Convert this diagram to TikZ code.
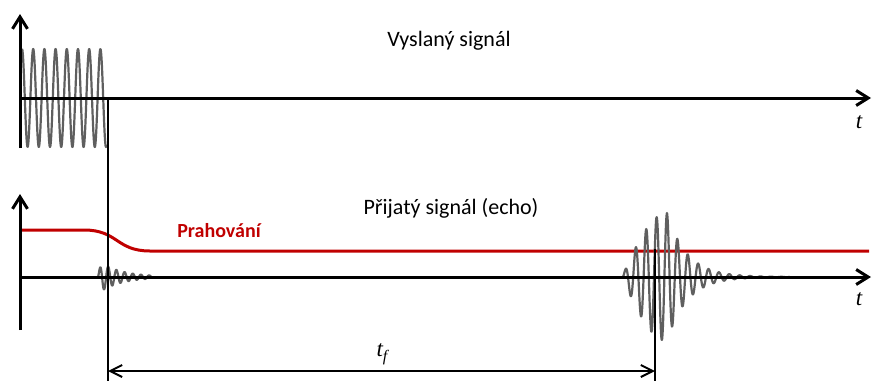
\documentclass[tikz,border=0pt]{standalone}
\usepackage{fontspec}
\setmainfont{Carlito}
\newfontfamily\varfont{Liberation Serif}
\usetikzlibrary{arrows.meta}
\definecolor{sig}{RGB}{95,95,95}
\definecolor{thr}{RGB}{192,0,0}
\begin{document}
\begin{tikzpicture}[x=1pt,y=-1pt,
  axis/.style={line width=3pt,-{Straight Barb[length=12pt,width=15pt]}},
  marker/.style={line width=2pt},
  dimline/.style={line width=2pt,{Straight Barb[length=12pt,width=12pt]}-{Straight Barb[length=12pt,width=12pt]}},
  wave/.style={sig,line width=2.2pt,line join=round},
  threshold/.style={thr,line width=3pt},
  caption/.style={font=\fontsize{22}{26}\selectfont,anchor=base,inner sep=0pt},
  thrlabel/.style={font=\fontsize{20}{24}\selectfont\bfseries,text=thr,anchor=base,inner sep=0pt},
  timelabel/.style={font=\varfont\itshape\fontsize{23}{26}\selectfont,anchor=base,inner sep=0pt},
  declare function={
    echoenv(\t)=(\t<667) ? 64*sin(2*(\t-622)) : 64*exp(-(\t-667)/20);
    smallenv(\t)=(\t<103) ? 13*sin(15*(\t-97)) : 13*exp(-(\t-103)/22);
  }]
\useasboundingbox (0,0) rectangle (873,381);

% axis end points
\coordinate (o1) at (20,98);
\coordinate (y1top) at (20,14);
\coordinate (y1bot) at (20,148);
\coordinate (x1end) at (871,98);
\coordinate (o2) at (20,277);
\coordinate (y2top) at (20,194);
\coordinate (y2bot) at (20,330);
\coordinate (x2end) at (871,277);

% threshold curve
\coordinate (thrA) at (22,230);
\coordinate (thrB) at (84,230);
\coordinate (thrC) at (150,251);
\coordinate (thrD) at (869,251);
\draw[threshold] (thrA) -- (thrB) .. controls (118,230) and (116,251) .. (thrC) -- (thrD);

% transmitted burst
\draw[wave] plot[domain=22:106.5,samples=340] (\x,{98-49*cos(32.1429*(\x-22))});

% weak echo right after transmission
\draw[wave] plot[domain=97:152,samples=240] (\x,{277-smallenv(\x)*cos(43.9024*(\x-100))});

% received echo
\draw[wave] plot[domain=622:790,samples=700] (\x,{277-echoenv(\x)*cos(34.6154*(\x-667))});

% axes
\draw[line width=3pt] (y1bot) -- (o1);
\draw[axis] (o1) -- (y1top);
\draw[axis] (o1) -- (x1end);
\draw[line width=3pt] (y2bot) -- (o2);
\draw[axis] (o2) -- (y2top);
\draw[axis] (o2) -- (x2end);

% time-of-flight markers
\coordinate (m1top) at (108,98);
\coordinate (m1bot) at (108,381);
\coordinate (m2top) at (655,249);
\coordinate (m2bot) at (655,381);
\draw[marker] (m1top) -- (m1bot);
\draw[marker] (m2top) -- (m2bot);
\coordinate (d1) at (108,371);
\coordinate (d2) at (655,371);
\draw[dimline] (d1) -- (d2);

% labels
\node[caption] (sent) at (449,46) {Vyslaný signál};
\node[caption] (recv) at (451,214) {Přijatý signál (echo)};
\node[thrlabel] (thrtext) at (219,237) {Prahování};
\node[timelabel] (t1) at (859,128) {t};
\node[timelabel] (t2) at (859,305) {t};
\node[timelabel] (tf) at (382,356) {t\raisebox{-5pt}{\fontsize{16}{18}\selectfont f}};
\end{tikzpicture}
\end{document}
